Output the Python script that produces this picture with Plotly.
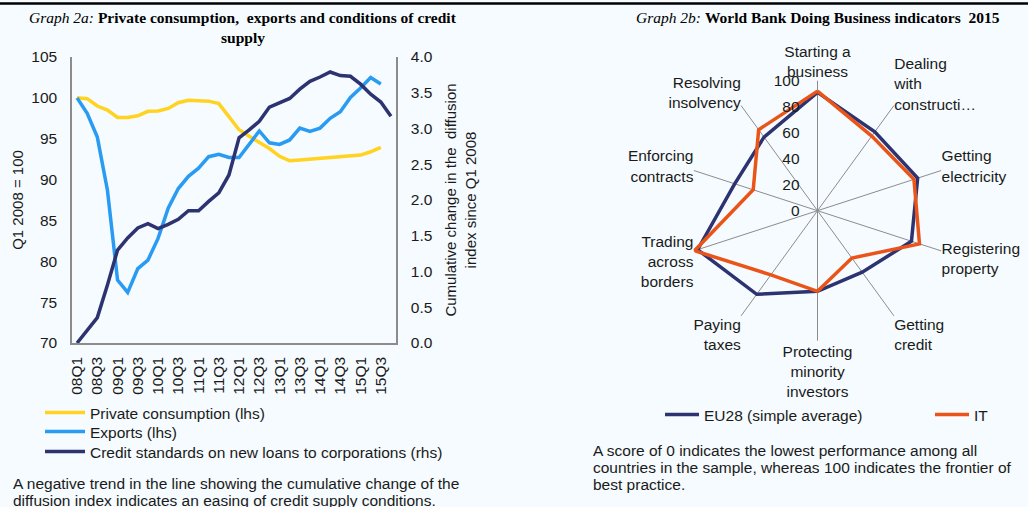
import plotly.graph_objects as go

# ---------------- data: Graph 2a ----------------
quarters = [f"{y:02d}Q{q}" for y in range(8, 16) for q in range(1, 5)]
tick_quarters = quarters[0::2]
consumption = [100.0, 99.9, 99.0, 98.5, 97.6, 97.6, 97.8, 98.35, 98.4, 98.7, 99.4,
               99.7, 99.65, 99.6, 99.3, 97.7, 96.1, 95.3, 94.6, 93.8, 92.85, 92.3,
               92.4, 92.5, 92.6, 92.75, 92.8, 92.9, 93.0, 93.4, 93.95]
exports = [100.0, 98.1, 95.2, 88.7, 77.7, 76.2, 79.1, 80.15, 82.8, 86.5, 88.9,
           90.4, 91.4, 92.8, 93.1, 92.7, 92.7, 94.3, 95.95, 94.5, 94.3, 94.85,
           96.3, 95.9, 96.3, 97.5, 98.3, 100.05, 101.2, 102.5, 101.7]
credit = [0.0, 0.17, 0.355, 0.81, 1.30, 1.47, 1.61, 1.67, 1.60, 1.66, 1.73,
          1.85, 1.85, 1.98, 2.10, 2.35, 2.87, 2.98, 3.10, 3.30, 3.36, 3.42,
          3.55, 3.66, 3.72, 3.79, 3.74, 3.73, 3.62, 3.48, 3.37, 3.17]

# ---------------- data: Graph 2b ----------------
indicators = ["Starting a<br>business", "Dealing<br>with<br>constructi\u2026",
              "Getting<br>electricity", "Registering<br>property", "Getting<br>credit",
              "Protecting<br>minority<br>investors", "Paying<br>taxes",
              "Trading<br>across<br>borders", "Enforcing<br>contracts",
              "Resolving<br>insolvency"]
eu28 = [91, 75, 81, 76, 58.5, 62, 79.5, 97, 67, 70]
it_vals = [92, 71, 78, 82.5, 45, 62, 61, 99.5, 52, 77]
radial_ticks = [0, 20, 40, 60, 80, 100]

W, H = 1028, 507
BG = "#F5FBFE"
SANS = "Liberation Sans, Arial, sans-serif"
SERIF = "Liberation Serif, Times New Roman, serif"
TXT = "#1a1a1a"
FS = 15.5
C_YEL = "#FFD320"
C_BLU = "#2A9BF2"
C_NAV = "#2D3370"
C_ORA = "#EB5418"
AX = "#8C8C8C"

def px_x(p):
    return p / W

def px_y(p):
    return 1 - p / H

fig = go.Figure()

fig.add_trace(go.Scatter(x=quarters[:len(consumption)], y=consumption,
                         name="Private consumption (lhs)", mode="lines",
                         line=dict(color=C_YEL, width=3.5), legend="legend"))
fig.add_trace(go.Scatter(x=quarters[:len(exports)], y=exports,
                         name="Exports (lhs)", mode="lines",
                         line=dict(color=C_BLU, width=3.5), legend="legend2"))
fig.add_trace(go.Scatter(x=quarters[:len(credit)], y=credit, yaxis="y2",
                         name="Credit standards on new loans to corporations (rhs)",
                         mode="lines", line=dict(color=C_NAV, width=3.5),
                         legend="legend3"))

fig.add_trace(go.Scatterpolar(r=eu28 + eu28[:1], theta=indicators + indicators[:1],
                              name="EU28 (simple average)", mode="lines",
                              line=dict(color=C_NAV, width=3.5), legend="legend4"))
fig.add_trace(go.Scatterpolar(r=it_vals + it_vals[:1], theta=indicators + indicators[:1],
                              name="IT", mode="lines",
                              line=dict(color=C_ORA, width=3.5), legend="legend5"))

def leg(x, y, iw=30):
    return dict(x=px_x(x), y=px_y(y), xanchor="left", yanchor="middle",
                bgcolor="rgba(0,0,0,0)", font=dict(size=FS, color=TXT),
                itemwidth=iw, orientation="v", borderwidth=0)

fig.update_layout(
    width=W, height=H,
    paper_bgcolor=BG, plot_bgcolor=BG,
    margin=dict(l=0, r=0, t=0, b=0, autoexpand=False),
    font=dict(family=SANS, size=FS, color=TXT),
    xaxis=dict(domain=[px_x(72), px_x(396)], type="category",
               categoryorder="array", categoryarray=quarters,
               range=[-0.5, len(quarters) - 0.5],
               tickmode="array", tickvals=tick_quarters, ticktext=tick_quarters,
               tickangle=-90, showline=True, linecolor=AX, linewidth=1.5,
               showgrid=False, ticks="", tickfont=dict(size=FS), zeroline=False,
               ticklabelstandoff=6, automargin=False),
    yaxis=dict(domain=[px_y(343), px_y(57)], range=[70, 105], dtick=5,
               showline=True, linecolor=AX, linewidth=1.5, showgrid=False,
               ticks="", zeroline=False, tickfont=dict(size=FS),
               ticklabelstandoff=10, automargin=False,
               title=dict(text="Q1 2008 = 100", font=dict(size=15), standoff=4)),
    yaxis2=dict(overlaying="y", side="right", anchor="x", range=[0, 4], dtick=0.5,
                tickformat=".1f", showline=True, linecolor=AX, linewidth=1.5,
                showgrid=False, ticks="", zeroline=False, tickfont=dict(size=FS),
                ticklabelstandoff=10, automargin=False,
                title=dict(text="Cumulative change in the  diffusion<br>index since Q1 2008",
                           font=dict(size=15), standoff=14)),
    polar=dict(domain=dict(x=[px_x(687.5), px_x(947.5)], y=[px_y(340.7), px_y(80.7)]),
               bgcolor="rgba(0,0,0,0)",
               radialaxis=dict(range=[0, 100], tickvals=radial_ticks, angle=90,
                               showgrid=False, showline=False, ticks="outside",
                               ticklen=12, tickcolor="rgba(0,0,0,0)",
                               tickangle=90, side="counterclockwise",
                               tickfont=dict(size=FS)),
               angularaxis=dict(direction="clockwise", rotation=90,
                                showgrid=True, gridcolor=AX, gridwidth=1,
                                showline=False, ticks="", tickfont=dict(size=FS))),
    legend=leg(40, 413, 40),
    legend2=leg(40, 432, 40),
    legend3=leg(40, 452, 40),
    legend4=leg(660, 415, 34),
    legend5=leg(930, 415, 34),
    showlegend=True,
)

def note(x, y, text, family=SANS, size=FS, anchor="left", color=TXT):
    fig.add_annotation(x=px_x(x), y=px_y(y), xref="paper", yref="paper",
                       xanchor=anchor, yanchor="middle", showarrow=False,
                       text=text, font=dict(family=family, size=size, color=color))

# titles
note(243, 18, "<i>Graph 2a:</i> <b>Private consumption,  exports and conditions of credit</b>",
     SERIF, 15.5, "center", "#000")
note(243, 37, "<b>supply</b>", SERIF, 15.5, "center", "#000")
note(818, 18, "<i>Graph 2b:</i> <b>World Bank Doing Business indicators  2015</b>",
     SERIF, 15.5, "center", "#000")

# footnotes
note(11, 483, "A negative trend in the line showing the cumulative change of the")
note(11, 500, "diffusion index indicates an easing of credit supply conditions.")
note(591, 450, "A score of 0 indicates the lowest performance among all")
note(591, 467, "countries in the sample, whereas 100 indicates the frontier of")
note(591, 484, "best practice.")

# top rule
fig.add_shape(type="line", xref="paper", yref="paper", x0=0, x1=1,
              y0=px_y(3.5), y1=px_y(3.5), line=dict(color="#000", width=2.5))

fig.write_html("out.html",
               config={"displayModeBar": False},
               post_script="document.body.style.margin='0px';"
                           "document.body.style.overflow='hidden';"
                           "document.documentElement.style.background='" + BG + "';")
